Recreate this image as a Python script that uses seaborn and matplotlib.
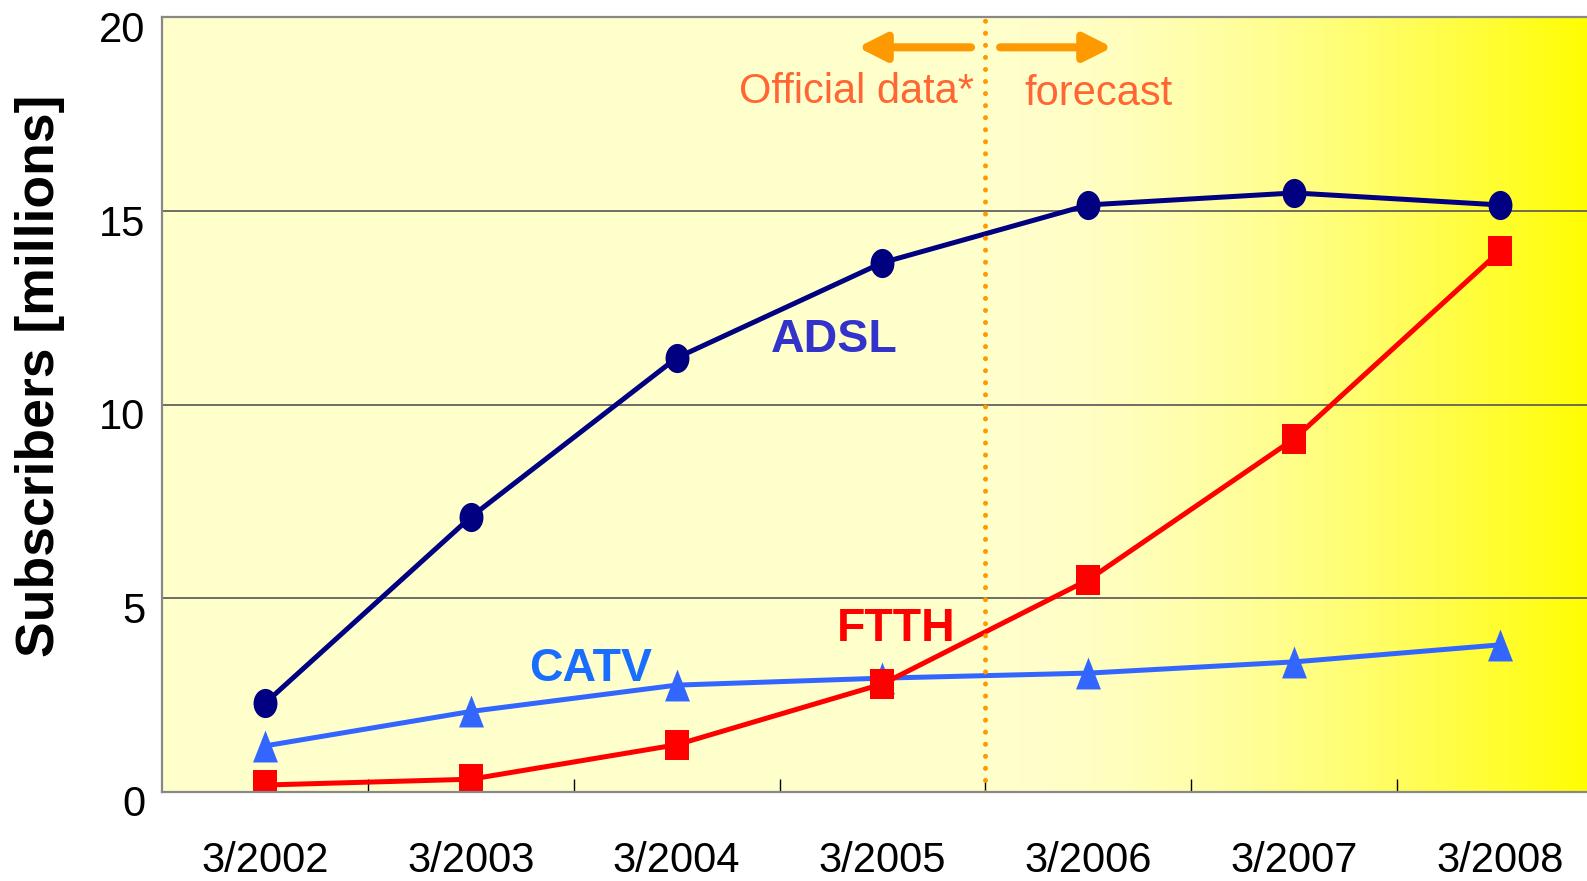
import numpy as np
import pandas as pd
import seaborn as sns
import matplotlib
matplotlib.use("Agg")
import matplotlib.pyplot as plt
from matplotlib.path import Path
from matplotlib.transforms import ScaledTranslation

# ---- data ----
periods = ["3/2002", "3/2003", "3/2004", "3/2005", "3/2006", "3/2007", "3/2008"]
adsl = [2.29, 7.10, 11.21, 13.67, 15.16, 15.47, 15.16]
catv = [1.19, 2.08, 2.76, 2.94, 3.07, 3.36, 3.80]
ftth = [0.18, 0.33, 1.22, 2.79, 5.48, 9.12, 13.97]
series_names = ["ADSL", "CATV", "FTTH"]
yticks = [0, 5, 10, 15, 20]

sns.set_theme(style="white")
plt.rcParams["font.family"] = ["Liberation Sans", "DejaVu Sans"]

W, H = 1587, 881
fig = plt.figure(figsize=(W / 100, H / 100), dpi=100)
ax_left, ax_right, ax_top, ax_bot = 162, 1603, 17.5, 792
ax = fig.add_axes([ax_left / W, (H - ax_bot) / H, (ax_right - ax_left) / W, (ax_bot - ax_top) / H])
ax.set_facecolor("none")

n = len(periods)
x = np.arange(n)
ax.set_xlim(-0.5, n - 0.5)
ax.set_ylim(0, 20)

# gradient background
cols = int(ax_right - ax_left)
px = np.linspace(ax_left, ax_right, cols)
t = np.clip((px - 1020) / (1590 - 1020), 0, 1) ** 1.5
img = np.ones((2, cols, 3))
img[:, :, 2] = (204 / 255) * (1 - t)
img[:, :, 1] = (255 - 2 * t) / 255
ax.imshow(img, extent=(-0.5, n - 0.5, 0, 20), aspect="auto", zorder=0, interpolation="bilinear")

# custom (slightly tall) markers
circ = Path.unit_circle()
ell = Path(circ.vertices * np.array([0.41, 0.5]), circ.codes)
sq = Path([(-0.41, -0.5), (0.41, -0.5), (0.41, 0.5), (-0.41, 0.5), (-0.41, -0.5)],
          [Path.MOVETO, Path.LINETO, Path.LINETO, Path.LINETO, Path.CLOSEPOLY])
tri = Path([(-0.39, -0.5), (0.39, -0.5), (0.0, 0.5), (-0.39, -0.5)],
           [Path.MOVETO, Path.LINETO, Path.LINETO, Path.CLOSEPOLY])

lw = 3.6
sns.lineplot(x=x, y=adsl, ax=ax, color="#000080", marker=ell, markersize=21,
             markeredgewidth=0, lw=lw, zorder=3, legend=False)
sns.lineplot(x=x, y=catv, ax=ax, color="#3366FF", marker=tri, markersize=23,
             markeredgewidth=0, lw=lw, zorder=3, legend=False)
sns.lineplot(x=x, y=ftth, ax=ax, color="#FF0000", marker=sq, markersize=21,
             markeredgewidth=0, lw=lw, zorder=4, legend=False)

# dotted divider between official data and forecast
ax.axvline(3.5, color="#FF9900", lw=3.6, linestyle=(0, (0.01, 2.4)),
           dash_capstyle="round", zorder=5)

# arrows
arrow_y = 19.23
for start, end in [(3.43, 2.88), (3.571, 4.116)]:
    ax.annotate("", xy=(end, arrow_y), xytext=(start, arrow_y),
                arrowprops=dict(arrowstyle="-|>,head_length=0.83,head_width=0.42",
                                mutation_scale=20, lw=5.8, color="#FF9900",
                                shrinkA=0, shrinkB=0), zorder=5)

ax.text(2.872, 17.78, "Official data*", color="#FF6633", fontsize=30,
        ha="center", va="baseline", zorder=6)
ax.text(4.05, 17.75, "forecast", color="#FF6633", fontsize=30,
        ha="center", va="baseline", zorder=6)

# series labels
ax.text(2.767, 11.37, series_names[0], color="#3333CC", fontsize=33.5, fontweight="bold",
        ha="center", va="baseline", zorder=6)
ax.text(1.584, 2.87, series_names[1], color="#1A6EFF", fontsize=33.5, fontweight="bold",
        ha="center", va="baseline", zorder=6)
ax.text(3.065, 3.91, series_names[2], color="#FF0000", fontsize=33.5, fontweight="bold",
        ha="center", va="baseline", zorder=6)

# axes styling
ax.set_xticks(x)
ax.set_xticklabels(periods, fontsize=30)
ax.set_xticks(np.arange(0.5, n - 0.5, 1), minor=True)
ax.tick_params(axis="x", which="major", length=0, pad=35.5, colors="black")
ax.tick_params(axis="x", which="minor", direction="in", length=9.4, width=1,
               color="black", bottom=True)
ax.set_yticks(yticks)
ax.set_yticklabels([str(v) for v in yticks], fontsize=30)
ax.tick_params(axis="y", length=0, pad=12, colors="black")
off = ScaledTranslation(0, -9 / 100, fig.dpi_scale_trans)
for lab in ax.get_yticklabels():
    lab.set_transform(lab.get_transform() + off)

ax.yaxis.grid(True, color="#555555", lw=1.2)
ax.xaxis.grid(False)
ax.set_axisbelow("line")

for s in ["left", "bottom", "top"]:
    ax.spines[s].set_visible(True)
    ax.spines[s].set_color("#888888")
    ax.spines[s].set_linewidth(1.6)
    ax.spines[s].set_zorder(6)
ax.spines["right"].set_visible(False)

ax.set_xlabel("")
ax.set_ylabel("Subscribers [millions]", fontsize=38.5, fontweight="bold", color="black")
ax.yaxis.set_label_coords(-0.067, 0.538)

fig.savefig("out.png", dpi=100)
